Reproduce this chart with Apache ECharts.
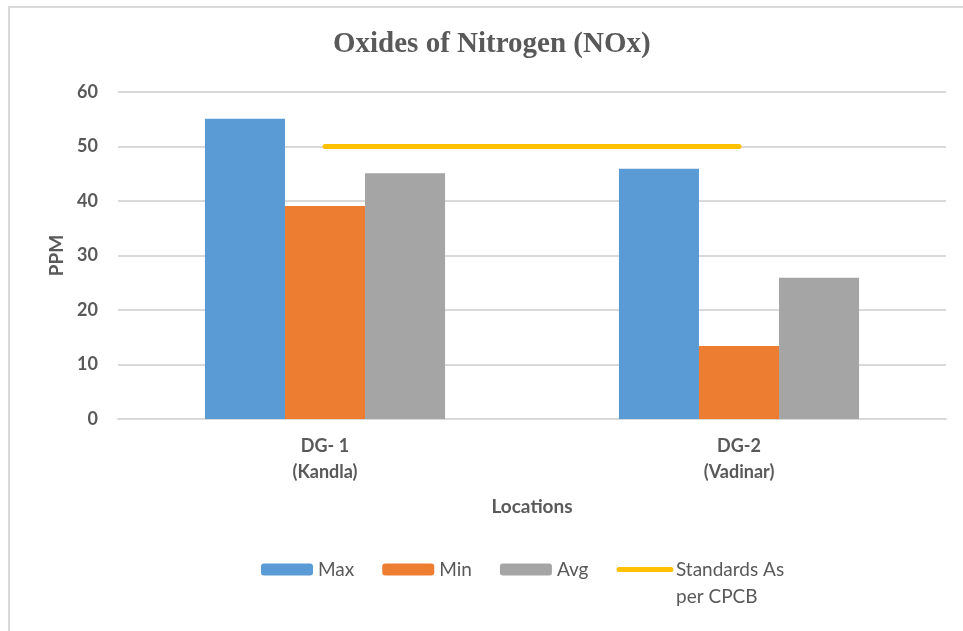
<!DOCTYPE html>
<html>
<head>
<meta charset="utf-8">
<script src="https://cdn.jsdelivr.net/npm/echarts@6/dist/echarts.min.js"></script>
<style>
  html, body { margin: 0; padding: 0; background: #fff; }
  #frame { position: absolute; left: 8px; top: 6px; right: -5px; bottom: -5px; border: 2px solid #d9d9d9; }
  #chart { position: absolute; left: 0; top: 0; width: 963px; height: 631px; }
</style>
</head>
<body>
<div id="frame"></div>
<div id="chart"></div>
<script>
var categories = ['DG- 1\n(Kandla)', 'DG-2\n(Vadinar)']
var maxValues = [55.1, 45.9]
var minValues = [39.1, 13.4]
var avgValues = [45.1, 25.9]
var standardValues = [50, 50]
var standardName = 'Standards As\nper CPCB'

var chart = echarts.init(document.getElementById('chart'))
var textColor = '#595959'
var sansFont = 'Lato, "Open Sans", sans-serif'

chart.setOption({
  animation: false,
  color: ['#5b9bd5', '#ed7d31', '#a5a5a5', '#ffc000'],
  title: {
    text: 'Oxides of Nitrogen (NOx)',
    left: 328,
    top: 25,
    textStyle: {
      fontFamily: '"Liberation Serif", "DejaVu Serif", serif',
      fontSize: 29,
      fontWeight: 'bold',
      color: textColor
    }
  },
  grid: {
    left: 118,
    right: 17,
    top: 92,
    bottom: 212
  },
  legend: {
    left: 256,
    top: 524,
    itemWidth: 52,
    itemHeight: 12,
    itemGap: 28,
    textStyle: {
      fontFamily: sansFont,
      fontSize: 19,
      lineHeight: 27,
      color: textColor
    },
    formatter: function (name) {
      // blank first line keeps the first text line level with the icon
      return name.indexOf('\n') > -1 ? ' \n' + name : name
    },
    data: ['Max', 'Min', 'Avg', {
      name: standardName,
      itemStyle: { opacity: 0 },
      lineStyle: { width: 5, cap: 'round' }
    }]
  },
  xAxis: {
    type: 'category',
    data: categories,
    name: 'Locations',
    nameLocation: 'middle',
    nameGap: 78,
    nameTextStyle: {
      fontFamily: sansFont,
      fontSize: 19,
      fontWeight: 'bold',
      color: textColor
    },
    axisLine: { lineStyle: { color: '#d9d9d9', width: 2 } },
    axisTick: { show: false },
    axisLabel: {
      margin: 14,
      formatter: function (v) {
        return v.split('\n').map(function (s) { return '{a|' + s + '}' }).join('\n')
      },
      rich: {
        a: {
          fontFamily: sansFont,
          fontSize: 18,
          fontWeight: 'bold',
          lineHeight: 26,
          color: textColor
        }
      }
    }
  },
  yAxis: {
    type: 'value',
    min: 0,
    max: 60,
    interval: 10,
    name: 'PPM',
    nameLocation: 'middle',
    nameGap: 52,
    nameTextStyle: {
      fontFamily: sansFont,
      fontSize: 19,
      fontWeight: 'bold',
      color: textColor
    },
    axisLine: { show: false },
    axisTick: { show: false },
    axisLabel: {
      margin: 20,
      fontFamily: sansFont,
      fontSize: 18,
      fontWeight: 'bold',
      color: textColor
    },
    splitLine: { lineStyle: { color: '#d9d9d9', width: 2 } }
  },
  series: [
    { name: 'Max', type: 'bar', data: maxValues, barGap: 0, barCategoryGap: '42%' },
    { name: 'Min', type: 'bar', data: minValues, barGap: 0, barCategoryGap: '42%' },
    { name: 'Avg', type: 'bar', data: avgValues, barGap: 0, barCategoryGap: '42%' },
    {
      name: standardName,
      type: 'line',
      data: standardValues,
      symbol: 'none',
      lineStyle: { width: 5, cap: 'round' }
    }
  ]
})
</script>
</body>
</html>
